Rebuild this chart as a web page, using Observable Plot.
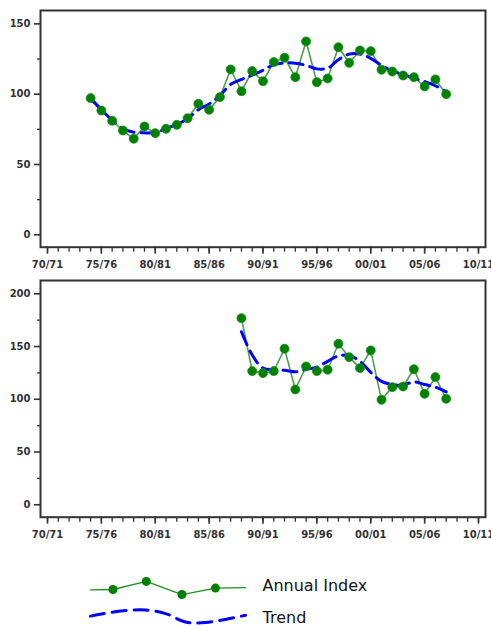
<!DOCTYPE html>
<html>
<head>
<meta charset="utf-8">
<script src="https://cdn.jsdelivr.net/npm/d3@7"></script>
<script src="https://cdn.jsdelivr.net/npm/@observablehq/plot@0.6"></script>
<style>
  html, body { margin: 0; padding: 0; background: #fff; }
  #chart svg { display: block; }
</style>
</head>
<body>
<div id="chart"></div>
<script>
// ---- Data ----
const years1 = [1974,1975,1976,1977,1978,1979,1980,1981,1982,1983,1984,1985,1986,1987,1988,1989,1990,1991,1992,1993,1994,1995,1996,1997,1998,1999,2000,2001,2002,2003,2004,2005,2006,2007];
const index1 = [97.2,88.4,81.1,74.2,68.3,77.0,72.3,75.4,78.2,82.9,93.2,88.9,97.9,117.6,102.1,116.4,109.2,122.8,125.9,112.1,137.5,108.5,111.2,133.4,122.3,131.1,130.6,117.4,116.1,113.3,112.1,105.5,110.5,100.0];
const trend1 = [97,89,81.5,75.5,73,72.5,72.8,75.5,78.5,82.5,89,93,99,107,110.5,113.5,117,121,122.2,122,120.5,118,118.5,124.5,128.5,128.5,125.5,120.5,116.5,114,111.5,109,106,102];

const years2 = [1988,1989,1990,1991,1992,1993,1994,1995,1996,1997,1998,1999,2000,2001,2002,2003,2004,2005,2006,2007];
const index2 = [176.9,126.7,124.8,126.7,147.9,109.3,131.1,126.7,128,152.6,139.9,129.5,146.3,99.5,111.5,112.1,128.5,105.2,121,100.5];
const trend2 = [164,142,129.5,128,127.5,126,128.5,130.5,136,141,141.5,136,125.5,117,114,113.5,116.5,114,111.5,107];

// Tick values
const xMajorTicks = [1970,1975,1980,1985,1990,1995,2000,2005,2010];
const xMinorTicks = [1970,1971,1972,1973,1974,1975,1976,1977,1978,1979,1980,1981,1982,1983,1984,1985,1986,1987,1988,1989,1990,1991,1992,1993,1994,1995,1996,1997,1998,1999,2000,2001,2002,2003,2004,2005,2006,2007,2008,2009,2010];
const yMajorTop = [0,50,100,150];
const yMinorTop = [25,75,125];
const yMajorBottom = [0,50,100,150,200];
const yMinorBottom = [25,75,125,175];

// Legend labels and sample shapes (normalized units)
const legendLabels = ["Annual Index", "Trend"];
const legendIndexX = [0, 0.145, 0.36, 0.59, 0.806, 1];
const legendIndexY = [0.01, 0, -0.29, 0.18, -0.05, -0.07];
const legendTrendX = [0, 0.194, 0.355, 0.484, 0.613, 0.742, 1];
const legendTrendY = [-0.05, -0.23, -0.27, -0.14, 0.16, 0.18, -0.08];

// ---- Helpers ----
const seasonLabel = d => String(d % 100).padStart(2, "0") + "/" + String((d + 1) % 100).padStart(2, "0");
const GREEN_LINE = "#4f9f4f";
const GREEN_DOT = "#008000";
const BLUE = "#0000ff";
const AXIS = "#333";

function panel(years, index, trend, yDomain, yMajor, yMinor, height, mTop, mBottom) {
  const pts = years.map((y, i) => ({year: y, value: index[i]}));
  const tr = years.map((y, i) => ({year: y, value: trend[i]}));
  return Plot.plot({
    width: 491,
    height,
    marginLeft: 40,
    marginRight: 6,
    marginTop: mTop,
    marginBottom: mBottom,
    style: {fontFamily: "DejaVu Sans", fontSize: "10px", fontWeight: "bold", color: AXIS, background: "#fff", overflow: "visible"},
    x: {domain: [1969.35, 2010.65], label: null},
    y: {domain: yDomain, label: null},
    marks: [
      Plot.axisX(xMinorTicks, {tickSize: 5, tickFormat: () => "", strokeWidth: 1.3, stroke: AXIS, label: null}),
      Plot.axisX(xMajorTicks, {tickSize: 7, tickPadding: 7, tickFormat: seasonLabel, strokeWidth: 1.6, stroke: AXIS, fill: AXIS, label: null}),
      Plot.axisY(yMinor, {tickSize: 3, tickFormat: () => "", strokeWidth: 1.3, stroke: AXIS, label: null}),
      Plot.axisY(yMajor, {tickSize: 6, tickPadding: 4, strokeWidth: 1.6, stroke: AXIS, fill: AXIS, label: null}),
      Plot.line(pts, {x: "year", y: "value", stroke: GREEN_LINE, strokeWidth: 1.6}),
      Plot.line(tr, {x: "year", y: "value", stroke: BLUE, strokeWidth: 3, strokeDasharray: "14,7", curve: "catmull-rom"}),
      Plot.dot(pts, {x: "year", y: "value", r: 4.5, fill: GREEN_DOT, stroke: "#1a8f1a", strokeWidth: 0.8}),
      Plot.frame({stroke: AXIS, strokeWidth: 2})
    ]
  });
}

const chart = document.getElementById("chart");
chart.append(panel(years1, index1, trend1, [-8.8, 159.5], yMajorTop, yMinorTop, 275, 10, 28.3));
chart.append(panel(years2, index2, trend2, [-11.8, 212.6], yMajorBottom, yMinorBottom, 270, 5, 28.3));

// ---- Legend ----
const legIdx = legendIndexX.map((x, i) => ({x, y: legendIndexY[i]}));
const legTr = legendTrendX.map((x, i) => ({x, y: 1 + legendTrendY[i]}));
const legend = Plot.plot({
  width: 491,
  height: 85,
  marginLeft: 90,
  marginRight: 246,
  marginTop: 0,
  marginBottom: 0,
  style: {background: "#fff", overflow: "visible"},
  x: {domain: [0, 1], axis: null},
  y: {domain: [0, 1], range: [44, 72], axis: null},
  marks: [
    Plot.line(legIdx, {x: "x", y: "y", stroke: "#1f8f1f", strokeWidth: 1.3}),
    Plot.dot(legIdx.slice(1, 5), {x: "x", y: "y", r: 4.5, fill: GREEN_DOT}),
    Plot.line(legTr, {x: "x", y: "y", stroke: BLUE, strokeWidth: 3, strokeDasharray: "14,8", curve: "catmull-rom"}),
    Plot.text([legendLabels[0]], {x: () => 1, y: () => 0, dx: 17, dy: -4, text: d => d, textAnchor: "start", fontFamily: "DejaVu Sans", fontSize: 16, fill: "#111"}),
    Plot.text([legendLabels[1]], {x: () => 1, y: () => 1, dx: 17, dy: 0, text: d => d, textAnchor: "start", fontFamily: "DejaVu Sans", fontSize: 16, fill: "#111"})
  ]
});
chart.append(legend);
</script>
</body>
</html>
